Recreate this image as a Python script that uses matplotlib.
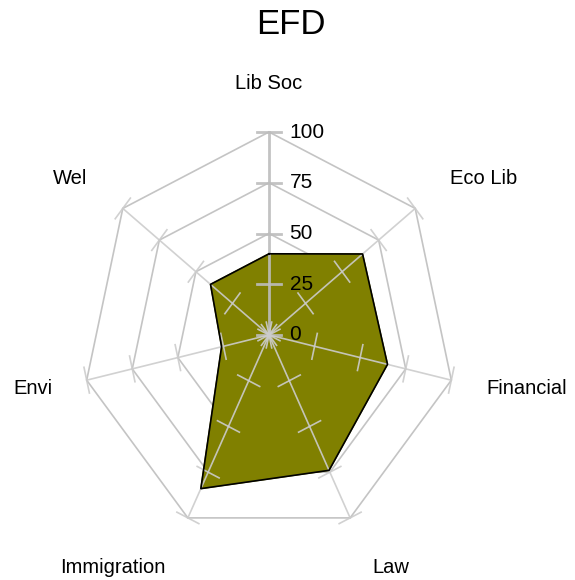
import numpy as np
import matplotlib
matplotlib.use("Agg")
import matplotlib.pyplot as plt

plt.rcParams['font.family'] = ['Liberation Sans', 'DejaVu Sans']

# data
categories = ["Lib Soc", "Eco Lib", "Financial", "Law", "Immigration", "Envi", "Wel"]
values = [40, 64, 65, 74, 84, 26, 40]
levels = [0, 25, 50, 75, 100]
level_labels = ["0", "25", "50", "75", "100"]
title = "EFD"

n = len(categories)
angles = np.arange(n) * 2 * np.pi / n  # clockwise from top


def to_xy(r, a):
    return r * np.sin(a), r * np.cos(a)


fig = plt.figure(figsize=(5.75, 5.8), dpi=100)
ax = fig.add_axes([0, 0, 1, 1])
ax.set_xlim(-269 / 1.87, 306 / 1.87)
ax.set_ylim(-245 / 2.03, 335 / 2.03)
ax.axis('off')

grid_col = '#c4c4c4'

# polygon rings (beneath the fill)
for lv in levels[1:]:
    xs, ys = to_xy(lv, np.append(angles, angles[0]))
    ax.plot(xs, ys, color=grid_col, lw=1.2, zorder=1)

# filled data polygon
vx, vy = to_xy(np.array(values + values[:1]), np.append(angles, angles[0]))
ax.fill(vx, vy, color='#808000', zorder=2)
ax.plot(vx, vy, color='black', lw=1.2, zorder=4)

# spokes and ticks on top
tick_half = 6.5
for i, a in enumerate(angles):
    x1, y1 = to_xy(levels[-1], a)
    main = i == 0
    col = '#bdbdbd' if main else '#cccccc'
    lw = 2.0 if main else 1.2
    ax.plot([0, x1], [0, y1], color=col, lw=lw, alpha=0.9, zorder=3)
    px, py = np.cos(a), -np.sin(a)
    for lv in levels:
        cx, cy = to_xy(lv, a)
        ax.plot([cx - px * tick_half, cx + px * tick_half],
                [cy - py * tick_half, cy + py * tick_half],
                color=col, lw=lw, alpha=0.9, zorder=3)

# scale labels along the top axis
for lv, lab in zip(levels, level_labels):
    ax.text(11, lv, lab, ha='left', va='center', fontsize=15, zorder=5)

# category labels
for cat, a in zip(categories, angles):
    if np.cos(a) < -0.5:
        r = 127
    elif abs(np.cos(a)) < 0.5:
        r = 119
    else:
        r = 124
    lx, ly = to_xy(r, a)
    if abs(np.sin(a)) < 0.1:
        ha = 'center'
    elif np.sin(a) > 0:
        ha = 'left'
    else:
        ha = 'right'
    ax.text(lx, ly, cat, ha=ha, va='center', fontsize=14.5)

fig.text(291 / 575, 1 - 24 / 580, title, ha='center', va='center', fontsize=25)

fig.savefig('out.png', dpi=100)
